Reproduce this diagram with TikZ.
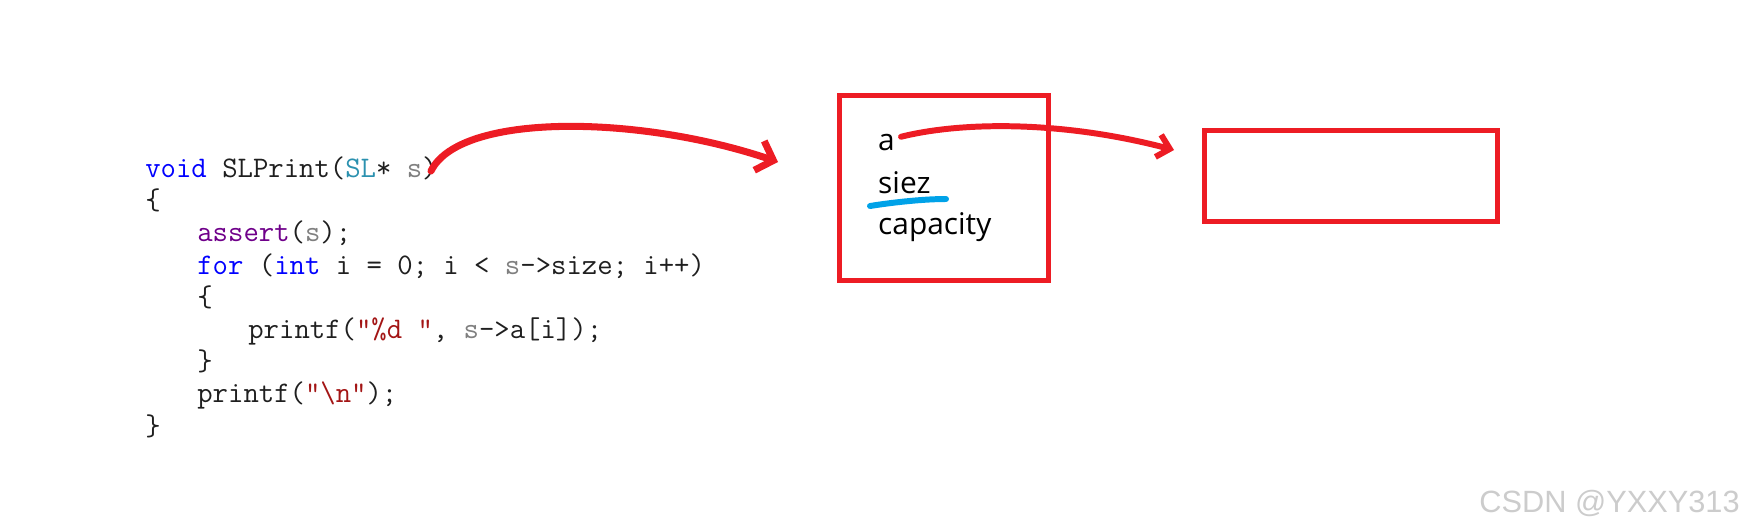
\documentclass[tikz,border=0pt]{standalone}
\usepackage{fontspec}
\usetikzlibrary{arrows.meta}
\newfontfamily\boxfont{Open Sans}
\newfontfamily\markfont{Liberation Sans}
\definecolor{kwblue}{RGB}{0,0,255}
\definecolor{typeteal}{RGB}{43,145,175}
\definecolor{argray}{RGB}{128,128,128}
\definecolor{fnpurple}{RGB}{111,0,138}
\definecolor{strred}{RGB}{163,21,21}
\definecolor{penred}{RGB}{237,28,36}
\definecolor{penblue}{RGB}{0,162,232}

\begin{document}
\begin{tikzpicture}[x=0.02cm,y=-0.02cm,
  codeline/.style={anchor=base west,inner sep=0pt,text=black!88,
    font=\ttfamily\fontsize{17}{19}\selectfont},
  boxtext/.style={anchor=base west,font=\boxfont\fontsize{17}{20}\selectfont},
  redbox/.style={draw=penred,line width=2.8pt},
  pen/.style={line width=#1,line cap=round,line join=round}]
  \useasboundingbox (0,0) rectangle (1746,531);
  % the C function
  \node[codeline] (l0) at (145,177) {\textcolor{kwblue}{void} SLPrint(\textcolor{typeteal}{SL}* \textcolor{argray}{s})};
  \node[codeline] (l1) at (145,209) {\{};
  \node[codeline] (l2) at (197,241) {\textcolor{fnpurple}{assert}(\textcolor{argray}{s});};
  \node[codeline] (l3) at (197,274) {\textcolor{kwblue}{for} (\textcolor{kwblue}{int} i = 0; i < \textcolor{argray}{s}->size; i++)};
  \node[codeline] (l4) at (197,306) {\{};
  \node[codeline] (l5) at (248,338) {printf(\textcolor{strred}{"\%d "}, \textcolor{argray}{s}->a[i]);};
  \node[codeline] (l6) at (197,370) {\}};
  \node[codeline] (l7) at (197,402) {printf(\textcolor{strred}{"\textbackslash n"});};
  \node[codeline] (l8) at (145,435) {\}};
  % the struct and its array
  \node[redbox,minimum width=4.18cm,minimum height=3.7cm] (sl) at (944,188) {};
  \node[redbox,minimum width=5.87cm,minimum height=1.82cm] (arr) at (1351,176) {};
  \node[boxtext] (a) at (872,150) {a};
  \node[boxtext] (siez) at (872,193) {siez};
  \node[boxtext] (cap) at (872,234) {capacity};
  \coordinate (sarg) at (431,171);
  \coordinate (tip1) at (778,162);
  \coordinate (tip2) at (1174,150);
  \draw[-{Straight Barb[length=8.5pt,width=17.6pt]},penred,pen=4pt]
    (sarg) .. controls (460,112) and (640,115) .. (tip1);
  \draw[-{Straight Barb[length=6.8pt,width=13pt]},penred,pen=3.4pt]
    ([yshift=3pt]a.east) .. controls (960,122) and (1060,120) .. (tip2);
  \draw[penblue,pen=3.4pt] (870,206) .. controls (895,202) and (925,199) .. (946,199);
  % watermark
  \node[anchor=base east,inner sep=0pt,text=black!20,
    font=\markfont\fontsize{17.5}{20}\selectfont] (csdn) at (1740,512) {CSDN @YXXY313};
\end{tikzpicture}
\end{document}
